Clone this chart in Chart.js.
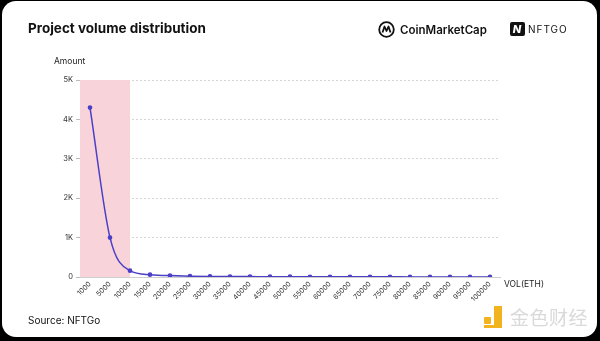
<!DOCTYPE html>
<html>
<head>
<meta charset="utf-8">
<script src="https://cdn.jsdelivr.net/npm/chart.js@4/dist/chart.umd.min.js"></script>
<style>
  html, body { margin: 0; padding: 0; background: #000; }
  body { width: 600px; height: 341px; overflow: hidden; position: relative; font-family: Inter, "Noto Sans", sans-serif; }
  #card { position: absolute; left: 2px; top: 1px; width: 595px; height: 336px; background: #fff; border-radius: 14px; overflow: hidden; }
  #wrap { position: absolute; left: -2px; top: -1px; width: 600px; height: 341px; }
  .abs { position: absolute; white-space: nowrap; color: #111; }
  #title { left: 28px; top: 20px; font-size: 13.5px; font-weight: 700; }
  #source { left: 28px; top: 314px; font-size: 10px; }
  #ylab { left: 54px; top: 56px; font-size: 8.5px; color: #222; }
  #xlab { left: 504px; top: 279px; font-size: 8.5px; color: #222; }
  #cmc { left: 378px; top: 21px; font-size: 11.5px; font-weight: 600; display: flex; align-items: center; gap: 5px; }
  #nftgo { left: 510px; top: 22px; font-size: 10px; letter-spacing: 1px; display: flex; align-items: center; gap: 3px; }
  #nftgo .box { width: 15px; height: 14px; background: #111; border-radius: 2px; color: #fff; font-weight: 800; font-style: italic; font-size: 11px; text-align: center; line-height: 14px; }
  #wm { left: 484px; top: 303px; display: flex; align-items: center; gap: 6px; }
  #wm .ico { width: 20px; height: 22px; position: relative; }
  #wm .txt { font-family: "Noto Sans CJK SC", sans-serif; font-size: 19px; color: #d9d9d9; letter-spacing: 0.5px; }
</style>
</head>
<body>
<div id="card">
  <div id="wrap">
    <canvas id="chart" width="600" height="341"></canvas>
    <div class="abs" id="title">Project volume distribution</div>
    <div class="abs" id="ylab">Amount</div>
    <div class="abs" id="xlab">VOL(ETH)</div>
    <div class="abs" id="source">Source: NFTGo</div>
    <div class="abs" id="cmc">
      <svg width="17" height="17" viewBox="0 0 17 17"><circle cx="8.5" cy="8.5" r="7.3" fill="none" stroke="#111" stroke-width="1.8"/><path d="M4.5 11.5 L6.5 5.5 L8.5 10 L10.5 5.5 L12.5 11.5" fill="none" stroke="#111" stroke-width="1.8" stroke-linejoin="round"/></svg>
      <span>CoinMarketCap</span>
    </div>
    <div class="abs" id="nftgo"><div class="box">N</div><span>NFTGO</span></div>
    <div class="abs" id="wm">
      <div class="ico">
        <div style="position:absolute;left:0;top:11px;width:7px;height:7px;background:#f3b31f;border-radius:1px"></div>
        <div style="position:absolute;left:10px;top:0;width:8px;height:22px;background:#f3b31f"></div>
        <div style="position:absolute;left:0;top:19px;width:18px;height:3px;background:#f3b31f"></div>
      </div>
      <div class="txt">金色财经</div>
    </div>
  </div>
</div>
<script>
// ===================== DATA ===================== //
const volLabels = ["1000", "5000", "10000", "15000", "20000", "25000", "30000", "35000", "40000", "45000",
    "50000", "55000", "60000", "65000", "70000", "75000", "80000", "85000", "90000", "95000", "100000"];
const amounts = [4300, 1000, 160, 60, 35, 22, 15, 12, 10, 8, 7, 6, 5, 5, 4, 4, 3, 3, 3, 2, 2];
const yTicks = [0, 1000, 2000, 3000, 4000, 5000];
const highlightEnd = 2; // index of the last category in the pink zone

// ===================== PINK HIGHLIGHT ===================== //
const highlightPlugin = {
    id: "highlight",
    beforeDatasetsDraw(chart) {
        const { ctx, chartArea, scales } = chart;
        const right = scales.x.getPixelForValue(highlightEnd);
        const top = scales.y.getPixelForValue(yTicks[yTicks.length - 1]);
        ctx.save();
        ctx.fillStyle = "#f8d3d9";
        ctx.fillRect(chartArea.left, top, right - chartArea.left, chartArea.bottom - top);
        ctx.restore();
    }
};

// ===================== CHART ===================== //
const ctx = document.getElementById("chart").getContext("2d");
new Chart(ctx, {
    type: "line",
    data: {
        labels: volLabels,
        datasets: [{
            data: amounts,
            borderColor: "#4b3fc6",
            backgroundColor: "#4b3fc6",
            borderWidth: 1.5,
            pointRadius: 1.6,
            pointHoverRadius: 2,
            cubicInterpolationMode: "monotone"
        }]
    },
    options: {
        responsive: false,
        animation: false,
        layout: { padding: { left: 48, right: 100, top: 80, bottom: 24 } },
        plugins: { legend: { display: false }, tooltip: { enabled: false } },
        scales: {
            x: {
                offset: true,
                afterFit(scale) { scale.height = 40; },
                grid: { display: false, drawTicks: false },
                border: { display: true, color: "#cfcfcf", width: 1 },
                ticks: {
                    minRotation: 45, maxRotation: 45, autoSkip: false, padding: 3,
                    color: "#333", font: { family: "Inter", size: 7 }
                }
            },
            y: {
                min: 0, max: 5000,
                afterFit(scale) { scale.width = 32; },
                afterBuildTicks(scale) { scale.ticks = yTicks.map(v => ({ value: v })); },
                grid: {
                    color: "#d6d6d6", lineWidth: 1, drawTicks: true, tickLength: 4,
                    tickColor: "#bbb"
                },
                border: { display: false, dash: [2, 2] },
                ticks: {
                    padding: 3, color: "#333", font: { family: "Inter", size: 7.5 },
                    callback: v => v === 0 ? "0" : (v / 1000) + "K"
                }
            }
        }
    },
    plugins: [highlightPlugin]
});
</script>
</body>
</html>
